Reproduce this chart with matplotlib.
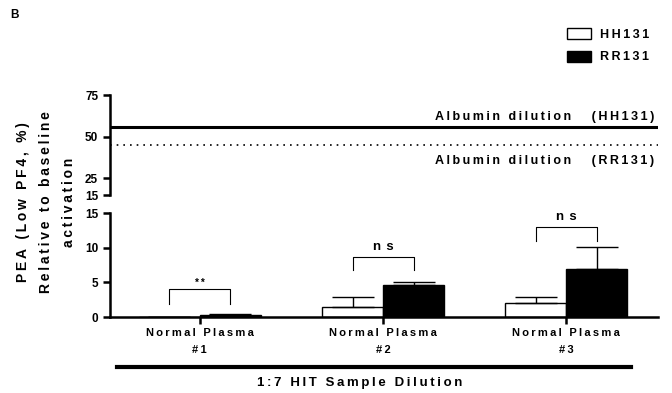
import numpy as np
import matplotlib
matplotlib.use("Agg")
import matplotlib.pyplot as plt
from matplotlib.lines import Line2D
from matplotlib.patches import Patch

plt.rcParams["font.family"] = ["Liberation Sans", "DejaVu Sans"]
plt.rcParams["font.weight"] = "bold"

groups = ["Normal Plasma\n#1", "Normal Plasma\n#2", "Normal Plasma\n#3"]
series = ["HH131", "RR131"]
hh_mean = [0.03, 1.4, 2.0]
hh_err = [0.0, 1.5, 0.9]
rr_mean = [0.3, 4.6, 6.9]
rr_err = [0.15, 0.4, 3.2]
sig_labels = ["**", "ns", "ns"]
sig_top = [4.0, 8.7, 13.0]
sig_low = [1.9, 6.8, 11.0]
albumin_hh = 55.8
albumin_rr = 45.0

THIN = "\u2009"


def spaced(s, n=1):
    # Prism-style wide letter spacing
    return "\n".join((THIN * n).join(line) for line in s.split("\n"))


W, H = 672, 393
fig = plt.figure(figsize=(W / 100, H / 100), dpi=100)


def box(x0, y0, x1, y1):
    return [x0 / W, 1 - y1 / H, (x1 - x0) / W, (y1 - y0) / H]


ax_top = fig.add_axes(box(110, 95, 658, 195))
ax = fig.add_axes(box(110, 213, 658, 317))

x = np.arange(len(groups))
bw = 1 / 3

ax.bar(x - bw / 2, hh_mean, bw, color="white", edgecolor="black", linewidth=1.0,
       yerr=[np.zeros(3), hh_err], capsize=15, error_kw=dict(elinewidth=1.0, capthick=1.0))
ax.bar(x + bw / 2, rr_mean, bw, color="black", edgecolor="black", linewidth=1.0,
       yerr=[np.zeros(3), rr_err], capsize=15, error_kw=dict(elinewidth=1.0, capthick=1.0))

for i in range(len(groups)):
    xl, xr = x[i] - bw / 2, x[i] + bw / 2
    ax.plot([xl, xl, xr, xr], [sig_low[i], sig_top[i], sig_top[i], sig_low[i]],
            color="black", lw=0.8)
    if sig_labels[i] == "**":
        ax.text(x[i], sig_top[i] + 0.2, spaced(sig_labels[i]), ha="center", va="bottom", fontsize=7)
    else:
        ax.text(x[i], sig_top[i] + 0.5, spaced(sig_labels[i], 2), ha="center", va="bottom", fontsize=9.5)

ax.set_xlim(-0.49, 2.5)
ax.set_ylim(0, 15)
ax.set_yticks([0, 5, 10, 15])
ax.set_xticks(x)
ax.set_xticklabels([spaced(g) for g in groups], linespacing=1.9)
for s in ["top", "right"]:
    ax.spines[s].set_visible(False)
for s in ["left", "bottom"]:
    ax.spines[s].set_linewidth(1.8)
ax.tick_params(axis="both", width=1.8, length=5)
ax.tick_params(axis="y", labelsize=8.5)
ax.tick_params(axis="x", pad=3, labelsize=8)

ax_top.set_xlim(-0.49, 2.5)
ax_top.set_ylim(15, 75)
ax_top.set_yticks([15, 25, 50, 75])
ax_top.set_xticks([])
for s in ["top", "right", "bottom"]:
    ax_top.spines[s].set_visible(False)
ax_top.spines["left"].set_linewidth(1.8)
ax_top.tick_params(axis="y", width=1.8, length=5, labelsize=8.5)
ax_top.axhline(albumin_hh, color="black", lw=2.2)
ax_top.axhline(albumin_rr, color="black", lw=1.2, linestyle=(0, (1, 3)))
ax_top.text(2.48, albumin_hh + 2.5, spaced("Albumin dilution   (HH131)"),
            ha="right", va="bottom", fontsize=9)
ax_top.text(2.48, albumin_rr - 6, spaced("Albumin dilution   (RR131)"),
            ha="right", va="top", fontsize=9)

fig.text(46 / W, 1 - 202 / H, spaced("PEA (Low PF4, %)\nRelative to baseline\nactivation"),
         rotation=90, ha="center", va="center", multialignment="center",
         fontsize=10, linespacing=1.8)

fig.add_artist(Line2D([117 / W, 631 / W], [1 - 367 / H, 1 - 367 / H], color="black", lw=3))
fig.text(360 / W, 1 - 383 / H, spaced("1:7 HIT Sample Dilution"), ha="center", va="center",
         fontsize=9.5)
fig.text(10 / W, 1 - 15 / H, "B", ha="left", va="center", fontsize=8.5)

handles = [Patch(facecolor="white", edgecolor="black", linewidth=1.0),
           Patch(facecolor="black", edgecolor="black")]
fig.legend(handles, [spaced(s) for s in series], loc="upper left",
           bbox_to_anchor=(556 / W, 1 - 17 / H), frameon=False, fontsize=9,
           handlelength=1.9, handleheight=1.0, labelspacing=0.75, handletextpad=0.7)

fig.savefig("out.png", dpi=100)
